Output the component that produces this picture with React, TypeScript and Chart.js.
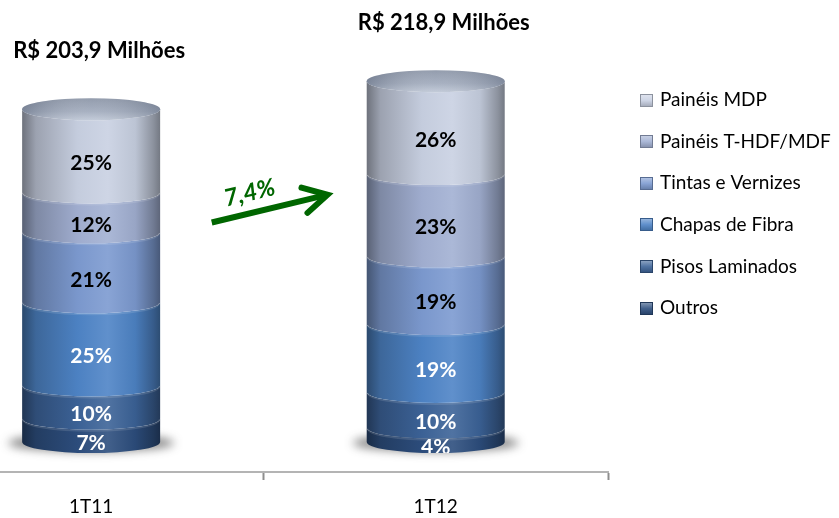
import React, { useEffect, useRef } from "react";
import { Chart, registerables } from "chart.js";

Chart.register(...registerables);

// ---- data ----
const categories = ["1T11", "1T12"];
const totals = [203.9, 218.9];
const barTitles = ["R$ 203,9 Milhões", "R$ 218,9 Milhões"];
const seriesNames = [
  "Outros",
  "Pisos Laminados",
  "Chapas de Fibra",
  "Tintas e Vernizes",
  "Painéis T-HDF/MDF",
  "Painéis MDP",
];
const outros = [7, 4];
const pisosLaminados = [10, 10];
const chapasDeFibra = [25, 19];
const tintasEVernizes = [21, 19];
const paineisTHdfMdf = [12, 23];
const paineisMdp = [25, 26];
const growthLabel = "7,4%";

const seriesPct = [outros, pisosLaminados, chapasDeFibra, tintasEVernizes, paineisTHdfMdf, paineisMdp];

// ---- styles ----
const seriesColors: number[][] = [
  [45, 78, 126],
  [60, 99, 152],
  [78, 132, 198],
  [124, 154, 208],
  [162, 176, 210],
  [200, 208, 226],
];
const labelColors = ["#ffffff", "#ffffff", "#ffffff", "#000000", "#000000", "#000000"];
const FONT = "Lato, 'Open Sans', sans-serif";
const GREEN = "#006600";

function mix(c: number[], t: number[], f: number) {
  const r = Math.round(c[0] + (t[0] - c[0]) * f);
  const g = Math.round(c[1] + (t[1] - c[1]) * f);
  const b = Math.round(c[2] + (t[2] - c[2]) * f);
  return `rgb(${r},${g},${b})`;
}
const BLACK = [0, 0, 0];
const WHITE = [255, 255, 255];

function segPath(ctx: CanvasRenderingContext2D, cx: number, rx: number, ry: number, yt: number, yb: number) {
  ctx.beginPath();
  ctx.moveTo(cx - rx, yt);
  ctx.ellipse(cx, yt, rx, ry, 0, Math.PI, 0, true);
  ctx.lineTo(cx + rx, yb);
  ctx.ellipse(cx, yb, rx, ry, 0, 0, Math.PI, false);
  ctx.closePath();
}

const cylinderPlugin = {
  id: "cylinders",
  afterDatasetsDraw(chart: any) {
    const ctx: CanvasRenderingContext2D = chart.ctx;
    const n = chart.data.datasets.length;
    const metas = chart.data.datasets.map((_: any, i: number) => chart.getDatasetMeta(i));
    const nBars = metas[0].data.length;
    const ry = 11;
    for (let j = 0; j < nBars; j++) {
      const e0 = metas[0].data[j];
      const cx = e0.x;
      const rx = e0.width / 2;
      const base = e0.base;
      // soft floor shadow
      ctx.save();
      ctx.filter = "blur(5px)";
      ctx.fillStyle = "rgba(40,40,40,0.55)";
      ctx.beginPath();
      ctx.ellipse(cx, base + 1, rx + 14, ry - 2, 0, 0, Math.PI * 2);
      ctx.fill();
      ctx.restore();

      // segments
      for (let i = 0; i < n; i++) {
        const el = metas[i].data[j];
        const c = seriesColors[i];
        const g = ctx.createLinearGradient(cx - rx, 0, cx + rx, 0);
        g.addColorStop(0, mix(c, BLACK, 0.45));
        g.addColorStop(0.1, mix(c, BLACK, 0.22));
        g.addColorStop(0.4, mix(c, BLACK, 0.02));
        g.addColorStop(0.62, mix(c, WHITE, 0.1));
        g.addColorStop(0.82, mix(c, BLACK, 0.06));
        g.addColorStop(0.95, mix(c, BLACK, 0.3));
        g.addColorStop(1, mix(c, BLACK, 0.42));
        ctx.fillStyle = g;
        segPath(ctx, cx, rx, ry, el.y, el.base);
        ctx.fill();
        if (i > 0) {
          ctx.save();
          ctx.strokeStyle = "rgba(255,255,255,0.12)";
          ctx.lineWidth = 2;
          ctx.beginPath();
          ctx.ellipse(cx, el.base + 1, rx - 1, ry, 0, Math.PI, 0, true);
          ctx.stroke();
          ctx.restore();
        }
      }
      // top cap
      const topY = metas[n - 1].data[j].y;
      const cg = ctx.createLinearGradient(0, topY - ry, 0, topY + ry);
      cg.addColorStop(0, "rgb(138,148,166)");
      cg.addColorStop(0.6, "rgb(160,170,188)");
      cg.addColorStop(1, "rgb(190,199,214)");
      ctx.fillStyle = cg;
      ctx.beginPath();
      ctx.ellipse(cx, topY, rx, ry, 0, 0, Math.PI * 2);
      ctx.fill();
      const hg = ctx.createLinearGradient(cx - rx, 0, cx + rx, 0);
      hg.addColorStop(0, "rgba(60,70,90,0.35)");
      hg.addColorStop(0.5, "rgba(255,255,255,0.08)");
      hg.addColorStop(1, "rgba(60,70,90,0.3)");
      ctx.fillStyle = hg;
      ctx.fill();

      // value labels, clipped to the cylinder
      ctx.save();
      segPath(ctx, cx, rx, ry, topY, base);
      ctx.clip();
      ctx.font = `bold 21px ${FONT}`;
      ctx.textAlign = "center";
      ctx.textBaseline = "middle";
      for (let i = 0; i < n; i++) {
        const el = metas[i].data[j];
        ctx.fillStyle = labelColors[i];
        ctx.fillText(`${seriesPct[i][j]}%`, cx, (el.y + el.base) / 2 + ry + 1.5);
      }
      ctx.restore();

      // title above bar
      ctx.save();
      ctx.font = `bold 22px ${FONT}`;
      ctx.fillStyle = "#000";
      ctx.textAlign = "center";
      ctx.textBaseline = "middle";
      ctx.fillText(barTitles[j], cx + 8, topY - 58);
      ctx.restore();
    }

    // growth arrow
    const xs = chart.scales.x;
    const ys = chart.scales.y;
    const x0 = xs.getPixelForValue(0.35);
    const y0 = ys.getPixelForValue(134.5);
    const x1 = xs.getPixelForValue(0.686);
    const y1 = ys.getPixelForValue(151.5);
    const ang = Math.atan2(y1 - y0, x1 - x0);
    ctx.save();
    ctx.strokeStyle = GREEN;
    ctx.lineWidth = 6;
    ctx.lineCap = "butt";
    ctx.beginPath();
    ctx.moveTo(x0, y0);
    ctx.lineTo(x1 - 4 * Math.cos(ang), y1 - 4 * Math.sin(ang));
    ctx.stroke();
    const L = 27;
    const spread = 0.5;
    ctx.lineJoin = "miter";
    ctx.miterLimit = 10;
    ctx.lineCap = "round";
    ctx.beginPath();
    ctx.moveTo(x1 + L * Math.cos(ang + Math.PI - spread), y1 + L * Math.sin(ang + Math.PI - spread));
    ctx.lineTo(x1, y1);
    ctx.lineTo(x1 + L * Math.cos(ang + Math.PI + spread), y1 + L * Math.sin(ang + Math.PI + spread));
    ctx.stroke();
    ctx.translate(xs.getPixelForValue(0.46), ys.getPixelForValue(152.5));
    ctx.rotate(ang);
    ctx.font = `italic bold 24px ${FONT}`;
    ctx.fillStyle = GREEN;
    ctx.textAlign = "center";
    ctx.textBaseline = "middle";
    ctx.fillText(growthLabel, 0, 0);
    ctx.restore();

    // legend (top series first)
    ctx.save();
    ctx.font = `19px ${FONT}`;
    ctx.textBaseline = "middle";
    ctx.textAlign = "left";
    for (let k = 0; k < n; k++) {
      const i = n - 1 - k;
      const y = 100 + k * 41.6;
      const c = seriesColors[i];
      const bx = 640;
      const by = Math.round(y - 6.5);
      const s = 13;
      const g = ctx.createLinearGradient(bx, by, bx, by + s);
      g.addColorStop(0, mix(c, WHITE, 0.45));
      g.addColorStop(0.5, mix(c, WHITE, 0.1));
      g.addColorStop(1, mix(c, BLACK, 0.2));
      ctx.fillStyle = g;
      ctx.fillRect(bx, by, s, s);
      ctx.strokeStyle = mix(c, BLACK, 0.3);
      ctx.lineWidth = 1;
      ctx.strokeRect(bx + 0.5, by + 0.5, s - 1, s - 1);
      ctx.fillStyle = "#000";
      ctx.fillText(chart.data.datasets[i].label, 660, y);
    }
    ctx.restore();
  },
};

export default function App() {
  const ref = useRef<HTMLCanvasElement | null>(null);
  useEffect(() => {
    if (!ref.current) return;
    Chart.defaults.font.family = FONT;
    const datasets = seriesNames.map((name, i) => ({
      label: name,
      data: categories.map((_, j) => ({ x: j, y: (seriesPct[i][j] * totals[j]) / 100 })),
      backgroundColor: "rgba(0,0,0,0)",
      borderWidth: 0,
      barThickness: 138,
    }));
    const chart = new Chart(ref.current, {
      type: "bar",
      data: { datasets },
      options: {
        responsive: false,
        animation: false,
        events: [],
        layout: { padding: { top: 34, right: 231, left: 0, bottom: 0 } },
        plugins: { legend: { display: false }, tooltip: { enabled: false }, title: { display: false } },
        scales: {
          x: {
            type: "linear",
            stacked: true,
            offset: false,
            min: -0.2645,
            max: 1.5,
            afterBuildTicks: (scale: any) => {
              scale.ticks = [0, 0.5, 1, 1.5].map((v) => ({ value: v }));
            },
            afterFit: (scale: any) => {
              scale.height = 46;
            },
            ticks: {
              autoSkip: false,
              maxRotation: 0,
              padding: 15,
              color: "#000",
              font: { size: 19, family: FONT },
              callback: (v: any) => (Number.isInteger(v) ? categories[v] ?? "" : ""),
            },
            grid: {
              offset: false,
              drawOnChartArea: false,
              drawTicks: true,
              tickLength: 8,
              tickWidth: 2,
              tickColor: (c: any) => (c.tick && !Number.isInteger(c.tick.value) ? "#8e8e8e" : "rgba(0,0,0,0)"),
            },
            border: { display: true, color: "#b4b4b4", width: 2 },
          },
          y: {
            display: false,
            stacked: true,
            min: -18.4,
            max: 250,
          },
        },
      },
      plugins: [cylinderPlugin],
    });
    return () => chart.destroy();
  }, []);
  return (
    <div style={{ position: "absolute", left: 0, top: 0, width: 839, height: 518, background: "#fff" }}>
      <canvas ref={ref} width={839} height={518} style={{ display: "block" }} />
    </div>
  );
}
